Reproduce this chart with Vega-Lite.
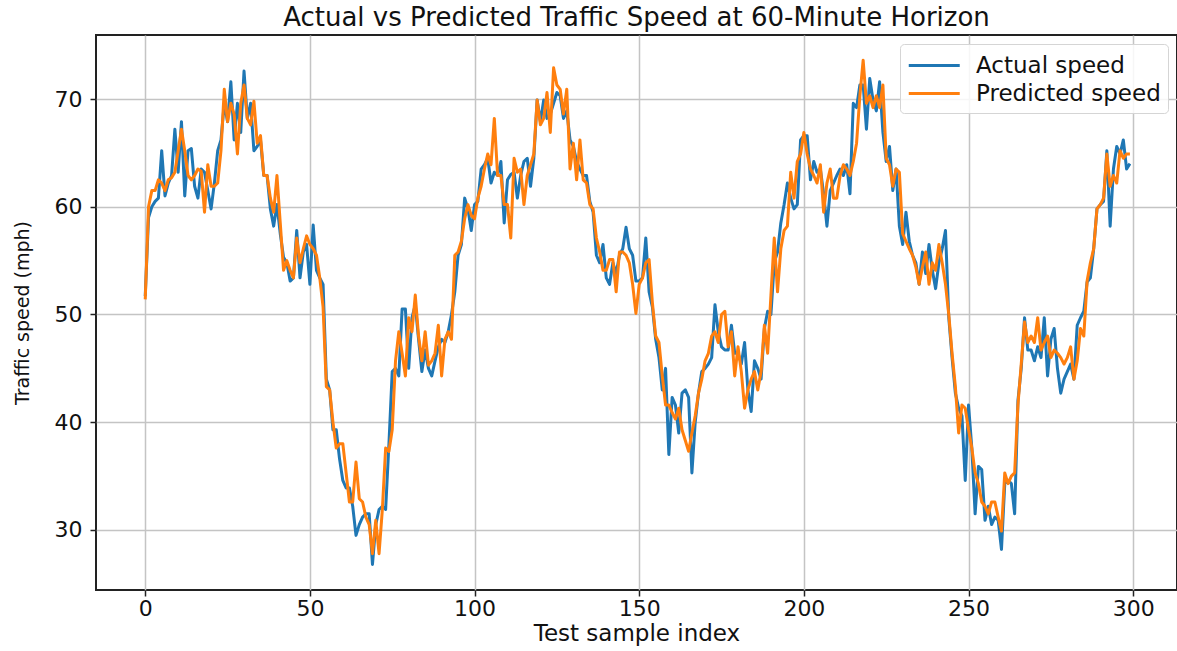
{
  "$schema": "https://vega.github.io/schema/vega-lite/v6.json",
  "width": 1081,
  "height": 555,
  "autosize": {"type": "none"},
  "padding": {"left": 96, "top": 35, "right": 0, "bottom": 61},
  "background": "white",
  "title": {"text": "Actual vs Predicted Traffic Speed at 60-Minute Horizon", "fontSize": 26, "font": "DejaVu Sans", "fontWeight": "normal", "color": "#111", "offset": 4, "anchor": "middle"},
  "data": {"values": [
{"index":0,"Actual speed":51.7,"Predicted speed":51.4},
{"index":1,"Actual speed":59.0,"Predicted speed":60.0},
{"index":2,"Actual speed":60.0,"Predicted speed":61.5},
{"index":3,"Actual speed":60.5,"Predicted speed":61.5},
{"index":4,"Actual speed":60.8,"Predicted speed":62.5},
{"index":5,"Actual speed":65.2,"Predicted speed":62.2},
{"index":6,"Actual speed":61.0,"Predicted speed":61.5},
{"index":7,"Actual speed":62.2,"Predicted speed":62.5},
{"index":8,"Actual speed":62.9,"Predicted speed":62.7},
{"index":9,"Actual speed":67.2,"Predicted speed":63.2},
{"index":10,"Actual speed":63.2,"Predicted speed":65.2},
{"index":11,"Actual speed":67.9,"Predicted speed":67.2},
{"index":12,"Actual speed":61.0,"Predicted speed":65.2},
{"index":13,"Actual speed":65.2,"Predicted speed":62.9},
{"index":14,"Actual speed":65.4,"Predicted speed":62.5},
{"index":15,"Actual speed":61.9,"Predicted speed":62.9},
{"index":16,"Actual speed":60.8,"Predicted speed":63.5},
{"index":17,"Actual speed":63.5,"Predicted speed":63.3},
{"index":18,"Actual speed":63.2,"Predicted speed":59.5},
{"index":19,"Actual speed":61.5,"Predicted speed":63.9},
{"index":20,"Actual speed":59.8,"Predicted speed":61.9},
{"index":21,"Actual speed":62.2,"Predicted speed":61.9},
{"index":22,"Actual speed":65.2,"Predicted speed":62.2},
{"index":23,"Actual speed":66.2,"Predicted speed":65.2},
{"index":24,"Actual speed":69.6,"Predicted speed":70.9},
{"index":25,"Actual speed":67.9,"Predicted speed":67.9},
{"index":26,"Actual speed":71.6,"Predicted speed":69.6},
{"index":27,"Actual speed":66.2,"Predicted speed":68.6},
{"index":28,"Actual speed":69.6,"Predicted speed":64.9},
{"index":29,"Actual speed":66.9,"Predicted speed":69.6},
{"index":30,"Actual speed":72.6,"Predicted speed":71.3},
{"index":31,"Actual speed":68.2,"Predicted speed":68.2},
{"index":32,"Actual speed":69.6,"Predicted speed":67.6},
{"index":33,"Actual speed":65.2,"Predicted speed":69.8},
{"index":34,"Actual speed":65.6,"Predicted speed":65.9},
{"index":35,"Actual speed":66.2,"Predicted speed":66.6},
{"index":36,"Actual speed":62.9,"Predicted speed":62.9},
{"index":37,"Actual speed":62.9,"Predicted speed":62.9},
{"index":38,"Actual speed":59.8,"Predicted speed":60.8},
{"index":39,"Actual speed":58.2,"Predicted speed":59.5},
{"index":40,"Actual speed":60.2,"Predicted speed":62.9},
{"index":41,"Actual speed":57.5,"Predicted speed":58.5},
{"index":42,"Actual speed":55.3,"Predicted speed":54.1},
{"index":43,"Actual speed":54.8,"Predicted speed":55.0},
{"index":44,"Actual speed":53.1,"Predicted speed":54.1},
{"index":45,"Actual speed":53.4,"Predicted speed":53.4},
{"index":46,"Actual speed":57.8,"Predicted speed":57.1},
{"index":47,"Actual speed":53.4,"Predicted speed":54.8},
{"index":48,"Actual speed":55.8,"Predicted speed":56.1},
{"index":49,"Actual speed":56.5,"Predicted speed":57.3},
{"index":50,"Actual speed":52.8,"Predicted speed":56.5},
{"index":51,"Actual speed":58.3,"Predicted speed":56.1},
{"index":52,"Actual speed":54.1,"Predicted speed":55.5},
{"index":53,"Actual speed":53.4,"Predicted speed":53.4},
{"index":54,"Actual speed":52.8,"Predicted speed":50.7},
{"index":55,"Actual speed":44.0,"Predicted speed":43.3},
{"index":56,"Actual speed":43.0,"Predicted speed":43.0},
{"index":57,"Actual speed":39.3,"Predicted speed":40.0},
{"index":58,"Actual speed":39.3,"Predicted speed":37.6},
{"index":59,"Actual speed":36.6,"Predicted speed":38.0},
{"index":60,"Actual speed":34.6,"Predicted speed":38.0},
{"index":61,"Actual speed":33.9,"Predicted speed":35.3},
{"index":62,"Actual speed":33.9,"Predicted speed":32.6},
{"index":63,"Actual speed":32.2,"Predicted speed":32.6},
{"index":64,"Actual speed":29.5,"Predicted speed":36.3},
{"index":65,"Actual speed":30.5,"Predicted speed":32.9},
{"index":66,"Actual speed":31.2,"Predicted speed":32.6},
{"index":67,"Actual speed":31.5,"Predicted speed":31.2},
{"index":68,"Actual speed":31.5,"Predicted speed":30.5},
{"index":69,"Actual speed":26.8,"Predicted speed":27.8},
{"index":70,"Actual speed":30.5,"Predicted speed":30.9},
{"index":71,"Actual speed":31.9,"Predicted speed":27.8},
{"index":72,"Actual speed":32.2,"Predicted speed":31.9},
{"index":73,"Actual speed":31.9,"Predicted speed":37.6},
{"index":74,"Actual speed":38.0,"Predicted speed":37.3},
{"index":75,"Actual speed":44.7,"Predicted speed":39.3},
{"index":76,"Actual speed":45.0,"Predicted speed":45.7},
{"index":77,"Actual speed":44.3,"Predicted speed":48.4},
{"index":78,"Actual speed":50.5,"Predicted speed":46.4},
{"index":79,"Actual speed":50.5,"Predicted speed":44.3},
{"index":80,"Actual speed":45.0,"Predicted speed":49.7},
{"index":81,"Actual speed":49.7,"Predicted speed":48.4},
{"index":82,"Actual speed":50.9,"Predicted speed":51.8},
{"index":83,"Actual speed":47.7,"Predicted speed":48.0},
{"index":84,"Actual speed":44.7,"Predicted speed":45.7},
{"index":85,"Actual speed":46.7,"Predicted speed":48.4},
{"index":86,"Actual speed":45.0,"Predicted speed":45.3},
{"index":87,"Actual speed":44.3,"Predicted speed":45.7},
{"index":88,"Actual speed":45.7,"Predicted speed":46.4},
{"index":89,"Actual speed":47.0,"Predicted speed":49.0},
{"index":90,"Actual speed":47.7,"Predicted speed":44.3},
{"index":91,"Actual speed":47.4,"Predicted speed":47.7},
{"index":92,"Actual speed":48.4,"Predicted speed":48.4},
{"index":93,"Actual speed":50.0,"Predicted speed":47.7},
{"index":94,"Actual speed":52.1,"Predicted speed":55.5},
{"index":95,"Actual speed":55.5,"Predicted speed":55.8},
{"index":96,"Actual speed":56.5,"Predicted speed":56.8},
{"index":97,"Actual speed":60.8,"Predicted speed":58.9},
{"index":98,"Actual speed":59.8,"Predicted speed":60.2},
{"index":99,"Actual speed":57.8,"Predicted speed":59.2},
{"index":100,"Actual speed":60.2,"Predicted speed":58.9},
{"index":101,"Actual speed":60.5,"Predicted speed":60.8},
{"index":102,"Actual speed":63.5,"Predicted speed":61.9},
{"index":103,"Actual speed":63.9,"Predicted speed":63.5},
{"index":104,"Actual speed":64.5,"Predicted speed":64.9},
{"index":105,"Actual speed":62.2,"Predicted speed":63.9},
{"index":106,"Actual speed":63.2,"Predicted speed":68.2},
{"index":107,"Actual speed":62.9,"Predicted speed":62.9},
{"index":108,"Actual speed":64.2,"Predicted speed":62.9},
{"index":109,"Actual speed":58.5,"Predicted speed":60.2},
{"index":110,"Actual speed":62.5,"Predicted speed":60.2},
{"index":111,"Actual speed":63.0,"Predicted speed":57.1},
{"index":112,"Actual speed":63.2,"Predicted speed":64.5},
{"index":113,"Actual speed":60.8,"Predicted speed":63.2},
{"index":114,"Actual speed":62.9,"Predicted speed":63.5},
{"index":115,"Actual speed":64.2,"Predicted speed":60.2},
{"index":116,"Actual speed":64.5,"Predicted speed":62.9},
{"index":117,"Actual speed":61.9,"Predicted speed":63.9},
{"index":118,"Actual speed":64.5,"Predicted speed":64.9},
{"index":119,"Actual speed":69.9,"Predicted speed":69.9},
{"index":120,"Actual speed":67.9,"Predicted speed":67.6},
{"index":121,"Actual speed":69.9,"Predicted speed":68.2},
{"index":122,"Actual speed":68.2,"Predicted speed":70.6},
{"index":123,"Actual speed":68.6,"Predicted speed":66.9},
{"index":124,"Actual speed":69.6,"Predicted speed":72.9},
{"index":125,"Actual speed":70.6,"Predicted speed":71.3},
{"index":126,"Actual speed":70.3,"Predicted speed":70.9},
{"index":127,"Actual speed":68.2,"Predicted speed":68.6},
{"index":128,"Actual speed":68.9,"Predicted speed":70.9},
{"index":129,"Actual speed":66.2,"Predicted speed":63.5},
{"index":130,"Actual speed":65.6,"Predicted speed":65.9},
{"index":131,"Actual speed":64.2,"Predicted speed":62.5},
{"index":132,"Actual speed":63.5,"Predicted speed":66.2},
{"index":133,"Actual speed":62.9,"Predicted speed":62.5},
{"index":134,"Actual speed":62.9,"Predicted speed":62.2},
{"index":135,"Actual speed":60.5,"Predicted speed":60.2},
{"index":136,"Actual speed":59.5,"Predicted speed":59.8},
{"index":137,"Actual speed":55.5,"Predicted speed":57.1},
{"index":138,"Actual speed":54.8,"Predicted speed":55.8},
{"index":139,"Actual speed":56.5,"Predicted speed":54.1},
{"index":140,"Actual speed":53.4,"Predicted speed":54.1},
{"index":141,"Actual speed":52.8,"Predicted speed":55.1},
{"index":142,"Actual speed":54.8,"Predicted speed":55.1},
{"index":143,"Actual speed":53.8,"Predicted speed":52.1},
{"index":144,"Actual speed":55.5,"Predicted speed":55.8},
{"index":145,"Actual speed":56.1,"Predicted speed":55.8},
{"index":146,"Actual speed":58.1,"Predicted speed":55.5},
{"index":147,"Actual speed":56.1,"Predicted speed":54.8},
{"index":148,"Actual speed":55.5,"Predicted speed":52.8},
{"index":149,"Actual speed":53.1,"Predicted speed":50.1},
{"index":150,"Actual speed":53.1,"Predicted speed":52.8},
{"index":151,"Actual speed":53.4,"Predicted speed":53.4},
{"index":152,"Actual speed":57.1,"Predicted speed":54.8},
{"index":153,"Actual speed":52.1,"Predicted speed":55.1},
{"index":154,"Actual speed":50.7,"Predicted speed":51.1},
{"index":155,"Actual speed":47.7,"Predicted speed":48.0},
{"index":156,"Actual speed":46.0,"Predicted speed":47.4},
{"index":157,"Actual speed":43.0,"Predicted speed":44.3},
{"index":158,"Actual speed":45.0,"Predicted speed":41.6},
{"index":159,"Actual speed":37.0,"Predicted speed":41.6},
{"index":160,"Actual speed":42.3,"Predicted speed":40.9},
{"index":161,"Actual speed":41.6,"Predicted speed":40.3},
{"index":162,"Actual speed":39.0,"Predicted speed":41.3},
{"index":163,"Actual speed":42.7,"Predicted speed":39.3},
{"index":164,"Actual speed":43.0,"Predicted speed":38.3},
{"index":165,"Actual speed":42.3,"Predicted speed":37.3},
{"index":166,"Actual speed":35.3,"Predicted speed":39.0},
{"index":167,"Actual speed":40.0,"Predicted speed":40.6},
{"index":168,"Actual speed":42.7,"Predicted speed":42.7},
{"index":169,"Actual speed":44.7,"Predicted speed":44.0},
{"index":170,"Actual speed":45.0,"Predicted speed":45.7},
{"index":171,"Actual speed":45.4,"Predicted speed":46.4},
{"index":172,"Actual speed":46.0,"Predicted speed":48.0},
{"index":173,"Actual speed":50.9,"Predicted speed":48.4},
{"index":174,"Actual speed":48.4,"Predicted speed":47.4},
{"index":175,"Actual speed":47.0,"Predicted speed":50.0},
{"index":176,"Actual speed":46.7,"Predicted speed":50.3},
{"index":177,"Actual speed":46.7,"Predicted speed":47.0},
{"index":178,"Actual speed":49.0,"Predicted speed":48.4},
{"index":179,"Actual speed":46.4,"Predicted speed":44.3},
{"index":180,"Actual speed":46.4,"Predicted speed":47.0},
{"index":181,"Actual speed":45.4,"Predicted speed":44.7},
{"index":182,"Actual speed":47.4,"Predicted speed":41.3},
{"index":183,"Actual speed":43.0,"Predicted speed":43.0},
{"index":184,"Actual speed":41.0,"Predicted speed":44.0},
{"index":185,"Actual speed":45.7,"Predicted speed":44.7},
{"index":186,"Actual speed":45.0,"Predicted speed":43.0},
{"index":187,"Actual speed":44.0,"Predicted speed":44.7},
{"index":188,"Actual speed":48.7,"Predicted speed":49.0},
{"index":189,"Actual speed":50.3,"Predicted speed":46.4},
{"index":190,"Actual speed":50.0,"Predicted speed":51.8},
{"index":191,"Actual speed":54.8,"Predicted speed":57.1},
{"index":192,"Actual speed":55.8,"Predicted speed":52.1},
{"index":193,"Actual speed":58.5,"Predicted speed":56.1},
{"index":194,"Actual speed":60.2,"Predicted speed":57.8},
{"index":195,"Actual speed":62.2,"Predicted speed":58.2},
{"index":196,"Actual speed":60.8,"Predicted speed":63.2},
{"index":197,"Actual speed":59.8,"Predicted speed":60.8},
{"index":198,"Actual speed":60.2,"Predicted speed":64.2},
{"index":199,"Actual speed":66.2,"Predicted speed":64.9},
{"index":200,"Actual speed":66.6,"Predicted speed":66.9},
{"index":201,"Actual speed":66.6,"Predicted speed":64.9},
{"index":202,"Actual speed":62.5,"Predicted speed":63.5},
{"index":203,"Actual speed":64.2,"Predicted speed":62.9},
{"index":204,"Actual speed":63.2,"Predicted speed":62.2},
{"index":205,"Actual speed":63.5,"Predicted speed":63.9},
{"index":206,"Actual speed":61.2,"Predicted speed":59.5},
{"index":207,"Actual speed":58.2,"Predicted speed":62.2},
{"index":208,"Actual speed":61.5,"Predicted speed":63.5},
{"index":209,"Actual speed":62.2,"Predicted speed":60.8},
{"index":210,"Actual speed":62.9,"Predicted speed":60.8},
{"index":211,"Actual speed":63.5,"Predicted speed":62.9},
{"index":212,"Actual speed":62.9,"Predicted speed":63.9},
{"index":213,"Actual speed":63.9,"Predicted speed":63.5},
{"index":214,"Actual speed":61.2,"Predicted speed":62.9},
{"index":215,"Actual speed":69.6,"Predicted speed":64.2},
{"index":216,"Actual speed":69.2,"Predicted speed":65.9},
{"index":217,"Actual speed":71.3,"Predicted speed":70.3},
{"index":218,"Actual speed":71.3,"Predicted speed":73.6},
{"index":219,"Actual speed":67.2,"Predicted speed":69.6},
{"index":220,"Actual speed":71.9,"Predicted speed":70.3},
{"index":221,"Actual speed":69.9,"Predicted speed":69.2},
{"index":222,"Actual speed":68.9,"Predicted speed":70.3},
{"index":223,"Actual speed":71.6,"Predicted speed":69.2},
{"index":224,"Actual speed":66.9,"Predicted speed":71.3},
{"index":225,"Actual speed":64.2,"Predicted speed":64.5},
{"index":226,"Actual speed":65.6,"Predicted speed":63.9},
{"index":227,"Actual speed":61.5,"Predicted speed":61.9},
{"index":228,"Actual speed":63.5,"Predicted speed":63.5},
{"index":229,"Actual speed":58.2,"Predicted speed":63.2},
{"index":230,"Actual speed":56.5,"Predicted speed":57.5},
{"index":231,"Actual speed":59.5,"Predicted speed":56.8},
{"index":232,"Actual speed":56.8,"Predicted speed":56.1},
{"index":233,"Actual speed":55.5,"Predicted speed":55.5},
{"index":234,"Actual speed":54.8,"Predicted speed":54.4},
{"index":235,"Actual speed":52.8,"Predicted speed":52.8},
{"index":236,"Actual speed":55.8,"Predicted speed":54.4},
{"index":237,"Actual speed":53.8,"Predicted speed":55.8},
{"index":238,"Actual speed":56.5,"Predicted speed":52.8},
{"index":239,"Actual speed":54.1,"Predicted speed":54.8},
{"index":240,"Actual speed":52.4,"Predicted speed":54.1},
{"index":241,"Actual speed":54.8,"Predicted speed":56.5},
{"index":242,"Actual speed":56.1,"Predicted speed":54.8},
{"index":243,"Actual speed":57.8,"Predicted speed":52.8},
{"index":244,"Actual speed":49.7,"Predicted speed":50.0},
{"index":245,"Actual speed":46.0,"Predicted speed":46.4},
{"index":246,"Actual speed":42.7,"Predicted speed":43.3},
{"index":247,"Actual speed":41.3,"Predicted speed":39.0},
{"index":248,"Actual speed":40.6,"Predicted speed":41.6},
{"index":249,"Actual speed":34.6,"Predicted speed":41.3},
{"index":250,"Actual speed":41.6,"Predicted speed":39.3},
{"index":251,"Actual speed":37.6,"Predicted speed":37.6},
{"index":252,"Actual speed":31.5,"Predicted speed":35.3},
{"index":253,"Actual speed":35.9,"Predicted speed":34.3},
{"index":254,"Actual speed":35.6,"Predicted speed":32.6},
{"index":255,"Actual speed":30.9,"Predicted speed":32.2},
{"index":256,"Actual speed":32.2,"Predicted speed":31.5},
{"index":257,"Actual speed":30.5,"Predicted speed":32.6},
{"index":258,"Actual speed":31.2,"Predicted speed":32.6},
{"index":259,"Actual speed":30.9,"Predicted speed":31.2},
{"index":260,"Actual speed":28.2,"Predicted speed":29.9},
{"index":261,"Actual speed":34.3,"Predicted speed":35.3},
{"index":262,"Actual speed":34.6,"Predicted speed":34.3},
{"index":263,"Actual speed":34.3,"Predicted speed":35.0},
{"index":264,"Actual speed":31.5,"Predicted speed":35.3},
{"index":265,"Actual speed":42.0,"Predicted speed":41.6},
{"index":266,"Actual speed":45.0,"Predicted speed":45.4},
{"index":267,"Actual speed":49.7,"Predicted speed":49.3},
{"index":268,"Actual speed":46.7,"Predicted speed":47.4},
{"index":269,"Actual speed":46.7,"Predicted speed":48.0},
{"index":270,"Actual speed":45.7,"Predicted speed":47.4},
{"index":271,"Actual speed":47.0,"Predicted speed":49.7},
{"index":272,"Actual speed":46.0,"Predicted speed":46.7},
{"index":273,"Actual speed":49.7,"Predicted speed":47.4},
{"index":274,"Actual speed":44.3,"Predicted speed":48.0},
{"index":275,"Actual speed":47.7,"Predicted speed":46.0},
{"index":276,"Actual speed":48.7,"Predicted speed":46.7},
{"index":277,"Actual speed":45.0,"Predicted speed":46.4},
{"index":278,"Actual speed":42.7,"Predicted speed":46.0},
{"index":279,"Actual speed":44.0,"Predicted speed":45.4},
{"index":280,"Actual speed":44.7,"Predicted speed":46.0},
{"index":281,"Actual speed":45.4,"Predicted speed":47.0},
{"index":282,"Actual speed":44.0,"Predicted speed":44.0},
{"index":283,"Actual speed":49.0,"Predicted speed":45.7},
{"index":284,"Actual speed":49.7,"Predicted speed":48.7},
{"index":285,"Actual speed":50.3,"Predicted speed":48.0},
{"index":286,"Actual speed":53.0,"Predicted speed":53.1},
{"index":287,"Actual speed":53.4,"Predicted speed":54.8},
{"index":288,"Actual speed":56.1,"Predicted speed":56.1},
{"index":289,"Actual speed":59.8,"Predicted speed":59.8},
{"index":290,"Actual speed":60.2,"Predicted speed":60.2},
{"index":291,"Actual speed":60.5,"Predicted speed":60.8},
{"index":292,"Actual speed":65.2,"Predicted speed":64.9},
{"index":293,"Actual speed":58.2,"Predicted speed":61.9},
{"index":294,"Actual speed":63.5,"Predicted speed":62.9},
{"index":295,"Actual speed":65.6,"Predicted speed":62.2},
{"index":296,"Actual speed":64.9,"Predicted speed":65.2},
{"index":297,"Actual speed":66.2,"Predicted speed":64.5},
{"index":298,"Actual speed":63.5,"Predicted speed":64.9},
{"index":299,"Actual speed":64.0,"Predicted speed":64.9}
  ]},
  "transform": [{"fold": ["Actual speed", "Predicted speed"], "as": ["series", "speed"]}],
  "mark": {"type": "line", "strokeWidth": 3, "clip": true, "strokeJoin": "round"},
  "encoding": {
    "x": {"field": "index", "type": "quantitative",
      "scale": {"domain": [-14.95, 313.3], "nice": false, "zero": false},
      "axis": {"values": [0, 50, 100, 150, 200, 250, 300], "title": "Test sample index", "labelFontSize": 22, "titleFontSize": 23, "labelPadding": 2, "titlePadding": 3, "grid": true}},
    "y": {"field": "speed", "type": "quantitative",
      "scale": {"domain": [24.43, 75.94], "nice": false, "zero": false},
      "axis": {"values": [30, 40, 50, 60, 70], "title": "Traffic speed (mph)", "labelFontSize": 22, "titleFontSize": 19, "labelPadding": 8, "titlePadding": 22, "grid": true}},
    "color": {"field": "series", "type": "nominal",
      "scale": {"domain": ["Actual speed", "Predicted speed"], "range": ["#1f77b4", "#ff7f0e"]},
      "legend": {"title": null, "orient": "top-right", "offset": 9, "symbolType": "M-1,0H3", "symbolSize": 650, "symbolStrokeWidth": 3, "symbolFillColor": "transparent", "labelFontSize": 23, "labelOffset": 40, "labelLimit": 400, "padding": 7, "rowPadding": 1, "fillColor": "rgba(255,255,255,0.85)", "strokeColor": "#d5d5d5", "cornerRadius": 4, "labelColor": "#111", "labelFont": "DejaVu Sans"}}
  },
  "config": {
    "font": "DejaVu Sans",
    "view": {"stroke": "#222", "strokeWidth": 2},
    "axis": {"labelFont": "DejaVu Sans", "titleFont": "DejaVu Sans", "labelColor": "#111", "titleColor": "#111", "titleFontWeight": "normal", "domain": false, "tickColor": "#222", "tickSize": 6, "tickWidth": 1.5, "gridColor": "#c4c4c4", "gridWidth": 1.5, "gridOpacity": 1}
  }
}
